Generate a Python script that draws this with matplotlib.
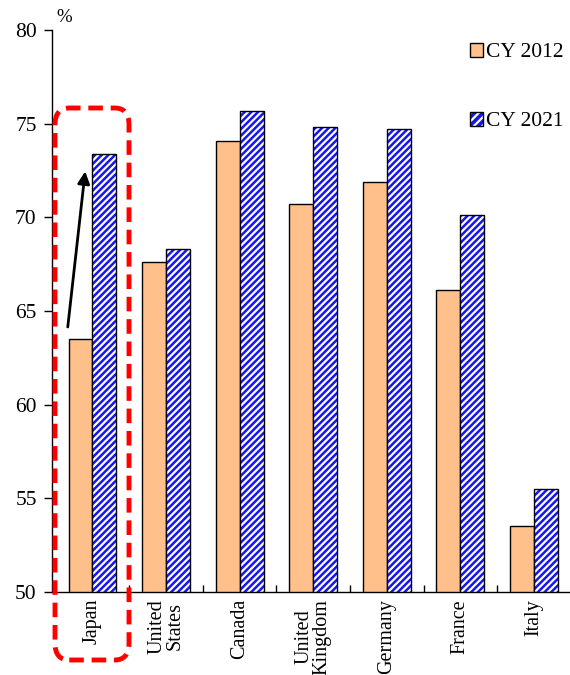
import matplotlib
matplotlib.use("Agg")
import matplotlib.pyplot as plt
from matplotlib.patches import FancyBboxPatch, Patch
from matplotlib.legend_handler import HandlerTuple
import numpy as np

categories = ["Japan", "United\nStates", "Canada", "United\nKingdom", "Germany", "France", "Italy"]
cy2012 = [63.5, 67.6, 74.1, 70.7, 71.9, 66.1, 53.5]
cy2021 = [73.4, 68.3, 75.7, 74.8, 74.7, 70.1, 55.5]
yticks = [50, 55, 60, 65, 70, 75, 80]

plt.rcParams['font.family'] = ['Liberation Serif', 'DejaVu Serif']
plt.rcParams['hatch.linewidth'] = 1.6

W, H = 570, 675
fig = plt.figure(figsize=(5.7, 6.75), dpi=100)
ax = fig.add_axes([52/W, 1-592/H, 1-52/W, (592-30)/H])

x = np.arange(len(categories))
w = 0.325
orange = '#FFC08C'
blue = '#1414F5'

ax.bar(x - w/2, cy2012, w, color=orange, edgecolor='black', linewidth=1.0, zorder=2)
ax.bar(x + w/2, cy2021, w, color=blue, edgecolor='white', hatch='/////', linewidth=0,
       zorder=2)
ax.bar(x + w/2, cy2021, w, fill=False, edgecolor='black', linewidth=1.0, zorder=3)

h1 = Patch(facecolor=orange, edgecolor='black', linewidth=1.0)
h2a = Patch(facecolor=blue, edgecolor='white', hatch='////', linewidth=0)
h2b = Patch(fill=False, edgecolor='black', linewidth=1.0)
leg = fig.legend([h1, (h2a, h2b)], ['CY 2012', 'CY 2021'], loc='upper left',
                 bbox_to_anchor=(470/W, 1 - 43/H), frameon=False, fontsize=15.5,
                 labelspacing=2.3, handlelength=0.6, handleheight=0.6,
                 handletextpad=0.15, borderaxespad=0, borderpad=0,
                 handler_map={tuple: HandlerTuple(ndivide=1, pad=0)})

ax.set_ylim(50, 80)
ax.set_xlim(-0.55, 6.49)
ax.set_yticks(yticks)
ax.set_yticklabels([str(v) for v in yticks], fontsize=15.5)
ax.tick_params(axis='y', direction='out', length=6, width=1, pad=5)

ax.set_xticks(x)
ax.set_xticklabels(categories, rotation=90, fontsize=14.5, va='top', ha='center',
                   linespacing=0.95)
ax.tick_params(axis='x', length=0, pad=5)
ax.set_xticks(x[:-1] + 0.5, minor=True)
ax.tick_params(axis='x', which='minor', direction='in', length=5, width=1)

for s in ['top', 'right']:
    ax.spines[s].set_visible(False)
ax.spines['left'].set_linewidth(1.0)
ax.spines['bottom'].set_linewidth(1.0)

fig.text(56/W, 1 - 26/H, '%', fontsize=13.5, ha='left', va='bottom')

# arrow
ax.annotate('', xy=(-0.095, 72.6), xytext=(-0.34, 64.0),
            arrowprops=dict(arrowstyle='-|>', color='black', lw=2,
                            mutation_scale=18), zorder=4)

# red dashed rounded box (figure pixel coords)
x0, y0, x1, y1 = 55, 108, 129, 660
box = FancyBboxPatch((x0/W, 1 - y1/H), (x1-x0)/W, (y1-y0)/H,
                     boxstyle='round,pad=0,rounding_size=0.025',
                     transform=fig.transFigure, fill=False, edgecolor='#FF0000',
                     linewidth=3.5, linestyle=(0, (3, 1.6)), zorder=10, clip_on=False)
fig.patches.append(box)

fig.savefig('out.png', dpi=100)
